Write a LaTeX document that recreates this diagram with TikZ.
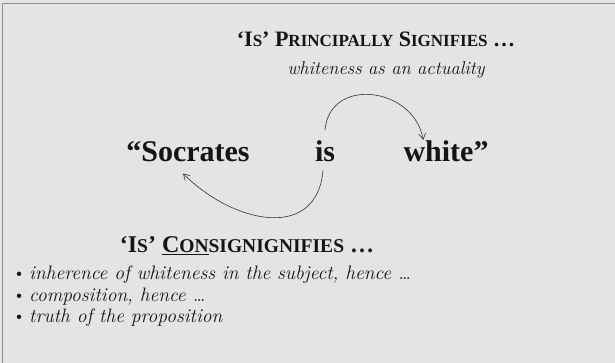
\documentclass[tikz,border=0pt]{standalone}
\usepackage{fontspec}
\setmainfont{Liberation Serif}
\newfontfamily\lmroman{Latin Modern Roman}
\usetikzlibrary{arrows.meta}

\newlength{\du}
\setlength{\du}{1pt}

\definecolor{slidefill}{rgb}{0.890, 0.894, 0.902}
\definecolor{slideedge}{rgb}{0.560, 0.560, 0.560}
\definecolor{inkcolor}{rgb}{0.080, 0.080, 0.080}
\definecolor{linkcolor}{rgb}{0.200, 0.200, 0.200}

% fake small caps, the font has none
\newcommand{\sclow}[1]{{\fontsize{17}{17}\selectfont #1}}
\newcommand{\sclowb}[1]{{\fontsize{19.5}{19.5}\selectfont #1}}

\tikzset{
  headline/.style={font=\fontsize{22}{22}\selectfont\bfseries, text=inkcolor, inner sep=0pt, anchor=base},
  subline/.style={font=\fontsize{24}{24}\selectfont\bfseries, text=inkcolor, inner sep=0pt, anchor=base},
  gloss/.style={font=\lmroman\fontsize{18.5}{20}\selectfont\itshape, text=inkcolor, inner sep=0pt, anchor=base},
  term/.style={font=\fontsize{30}{30}\selectfont\bfseries, text=inkcolor, inner sep=0pt, anchor=base},
  entry/.style={font=\lmroman\fontsize{19.5}{20}\selectfont, text=inkcolor, inner sep=0pt, anchor=base west},
  link/.style={draw=linkcolor, line width=0.6pt, -{Straight Barb[length=6pt,width=7pt]}}
}

\begin{document}
\begin{tikzpicture}
\useasboundingbox (0\du,0\du) rectangle (615\du,363\du);
\fill[slidefill] (0\du,0\du) rectangle (615\du,363\du);
\draw[slideedge, line width=1.6\du] (2.5\du,0\du)--(2.5\du,359.5\du)--(615\du,359.5\du);

% upper heading
\node[headline] (signifies) at (376\du,316\du){‘I\sclow{S}’ P\sclow{RINCIPALLY} S\sclow{IGNIFIES} \ldots};
\node[gloss] (actuality) at (386\du,288\du){whiteness as an actuality};

% the proposition
\node[term] (socrates) at (188\du,201\du){“Socrates};
\node[term] (is) at (325\du,201\du){is};
\node[term] (white) at (446\du,201\du){white”};

\draw[link] ([yshift=11\du]is.north) to[out=85,in=100,looseness=1.4] ([xshift=20\du,yshift=1\du]white.north west);
\draw[link] ([xshift=-2\du,yshift=-8\du]is.south) to[out=-95,in=-45,looseness=1.3] ([xshift=-5\du,yshift=-11\du]socrates.south);

% lower heading
\node[subline] (consignifies) at (247\du,110\du){‘I\sclowb{S}’ \underline{C\sclowb{ON}}\sclowb{SIGNIGNIFIES} \ldots};
\node[entry] (inherence) at (12\du,83\du){\textbullet\hspace{3\du}\textit{inherence of whiteness in the subject, hence \ldots}};
\node[entry] (composition) at (12\du,61\du){\textbullet\hspace{3\du}\textit{composition, hence \ldots}};
\node[entry] (truth) at (12\du,40\du){\textbullet\hspace{3\du}\textit{truth of the proposition}};
\end{tikzpicture}
\end{document}
